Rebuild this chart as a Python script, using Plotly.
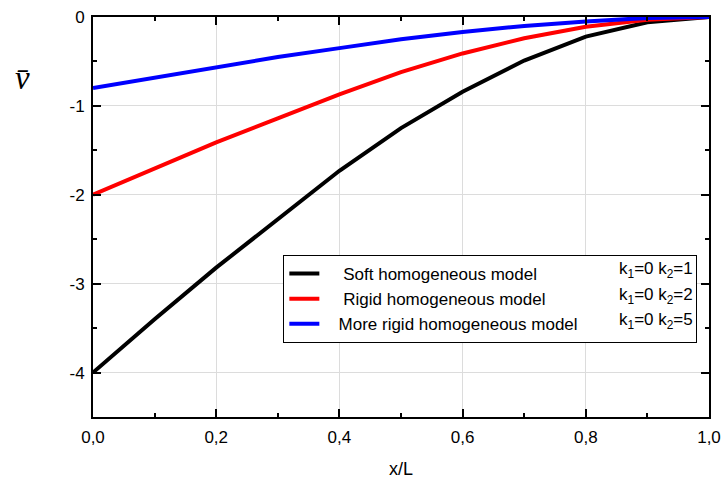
import plotly.graph_objects as go

x_vals = [0.0, 0.1, 0.2, 0.3, 0.4, 0.5, 0.6, 0.7, 0.8, 0.9, 1.0]
soft = [-4.0, -3.40, -2.82, -2.27, -1.73, -1.25, -0.84, -0.49, -0.22, -0.06, 0.0]
rigid = [-2.0, -1.70, -1.41, -1.14, -0.87, -0.62, -0.41, -0.24, -0.11, -0.03, 0.0]
more_rigid = [-0.80, -0.68, -0.56, -0.45, -0.35, -0.25, -0.17, -0.10, -0.05, -0.01, 0.0]

names = ["Soft homogeneous model", "Rigid homogeneous model", "More rigid homogeneous model"]
k_labels = ["k<sub>1</sub>=0 k<sub>2</sub>=1", "k<sub>1</sub>=0 k<sub>2</sub>=2", "k<sub>1</sub>=0 k<sub>2</sub>=5"]
colors = ["#000000", "#ff0000", "#0000ff"]
series = [soft, rigid, more_rigid]

x_ticks = [0.0, 0.2, 0.4, 0.6, 0.8, 1.0]
x_ticktext = ["0,0", "0,2", "0,4", "0,6", "0,8", "1,0"]
y_ticks = [0, -1, -2, -3, -4]
y_ticktext = ["0", "-1", "-2", "-3", "-4"]

FONT = "Liberation Sans, Arial, sans-serif"
NB = "\u00a0"
prefix = [NB * 4, NB * 4, NB * 3]
suffix = [NB * 10, NB * 10, NB * 24]

fig = go.Figure()
for n, s, c, p, q in zip(names, series, colors, prefix, suffix):
    fig.add_trace(go.Scatter(x=x_vals, y=s, mode="lines", name=p + n + q,
                             line=dict(color=c, width=4)))

axis_common = dict(showline=True, linecolor="black", linewidth=2, mirror="ticks",
                   ticks="inside", ticklen=8, tickwidth=1.5, tickcolor="black",
                   showgrid=True, gridcolor="#dcdcdc", gridwidth=1, zeroline=False,
                   automargin=False,
                   tickfont=dict(family=FONT, size=17, color="black"))

fig.update_xaxes(range=[0, 1], tickvals=x_ticks, ticktext=x_ticktext,
                 ticklabelstandoff=4,
                 minor=dict(dtick=0.1, ticks="inside", ticklen=4, tickcolor="black", showgrid=False),
                 title=dict(text="x/L", font=dict(family=FONT, size=18, color="black"), standoff=16),
                 **axis_common)
fig.update_yaxes(range=[-4.5, 0], tickvals=y_ticks, ticktext=y_ticktext,
                 ticklabelstandoff=3,
                 minor=dict(dtick=0.5, ticks="inside", ticklen=4, tickcolor="black", showgrid=False),
                 **axis_common)

for i, k in enumerate(k_labels):
    fig.add_annotation(xref="paper", yref="paper", x=0.977, y=0.3675 - i * 0.0640,
                       text=k, showarrow=False, xanchor="right", yanchor="middle",
                       font=dict(family=FONT, size=17, color="black"))

fig.add_annotation(xref="paper", yref="paper", x=-0.115, y=0.848,
                   text="<i>v\u0304</i>", showarrow=False, xanchor="center", yanchor="middle",
                   font=dict(family="Liberation Serif, serif", size=33, color="black"))

fig.update_layout(
    width=723, height=479,
    margin=dict(l=93, r=14, t=17, b=62),
    plot_bgcolor="white", paper_bgcolor="white",
    showlegend=True,
    legend=dict(x=0.309, y=0.405, xanchor="left", yanchor="top",
                bordercolor="black", borderwidth=1, bgcolor="white",
                font=dict(family=FONT, size=17, color="black"),
                tracegroupgap=0),
)

fig.write_html("out.html")
